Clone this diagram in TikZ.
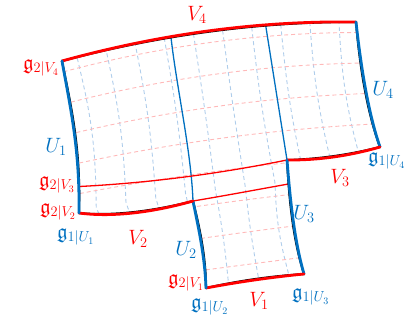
\documentclass[tikz,border=0pt]{standalone}
\usepackage{amssymb}
\DeclareMathSizes{20.74}{20.74}{14.4}{10}
\definecolor{ublue}{RGB}{0,112,192}
\definecolor{vred}{RGB}{255,0,0}
\definecolor{gblue}{RGB}{175,205,235}
\definecolor{gred}{RGB}{255,185,185}
\pgfmathdeclarefunction{bx}{2}{\pgfmathparse{(1-(#1))*(1-(#2))*92+(#1)*(1-(#2))*397+(1-(#1))*(#2)*62+(#1)*(#2)*356}}
\pgfmathdeclarefunction{by}{2}{\pgfmathparse{(1-(#1))*(1-(#2))*299+(#1)*(1-(#2))*261+(1-(#1))*(#2)*61+(#1)*(#2)*22}}
\pgfmathdeclarefunction{pinch}{1}{\pgfmathparse{((#1)<0.37)*22*sin(180*(#1)/0.37)+((#1)>=0.37)*12*sin(180*((#1)-0.37)/0.63)}}
\pgfmathdeclarefunction{mx}{2}{\pgfmathparse{bx(#1,#2)-((#1)-0.5)*pinch(#2)}}
\pgfmathdeclarefunction{my}{2}{\pgfmathparse{by(#1,#2)-40*(#2)*(#1)*(1-(#1))}}
\begin{document}
\begin{tikzpicture}[x=1pt,y=-1pt,
  edge/.style={line width=2.8pt,line cap=round},
  under/.style={line width=2pt,black,line join=round},
  thinb/.style={ublue,line width=1.3pt},
  thinr/.style={vred,line width=1.3pt},
  gridr/.style={gred,line width=0.9pt,dash pattern=on 4pt off 3pt},
  gridb/.style={gblue,line width=0.9pt,dash pattern=on 4pt off 3pt},
  lab/.style={font=\fontsize{20.74}{24}\selectfont,inner sep=0pt},
  rl/.style={lab,text=vred},
  bl/.style={lab,text=ublue}]
\useasboundingbox (0,0) rectangle (414,322);
\coordinate (A) at (62,61);
\coordinate (B) at (356,22);
\coordinate (C) at (380,147);
\coordinate (D) at (287,160);
\coordinate (E) at (304,274);
\coordinate (F) at (206,288);
\coordinate (G) at (193,201);
\coordinate (H) at (79,213);
\coordinate (I) at (79.2,186.5);
\coordinate (J) at (171,37.5);
\coordinate (K) at (265.7,25.6);
\coordinate (M) at (288.4,184);
% dashed grid
\begin{scope}
\clip (A) .. controls (161.3,34.8) and (259.3,21.8) .. (B)
  .. controls (359,60) and (366,110) .. (C)
  .. controls (349,154.8) and (318,159.1) .. (D)
  .. controls (289,200) and (293,240) .. (E)
  .. controls (271.3,276) and (238.7,280.7) .. (F)
  .. controls (206,255) and (199,225) .. (G)
  .. controls (150,212) and (110,216) .. (H)
  .. controls (81,150) and (72,110) .. (A) -- cycle;
\foreach \uu in {0.051,0.15,0.249,0.348,0.447,0.546,0.645,0.744,0.843,0.942}
  \draw[gridb] plot[domain=-0.05:1.05,samples=40,variable=\s] ({mx(\uu,\s)},{my(\uu,\s)});
\foreach \vv in {0.06,0.188,0.316,0.444,0.572,0.70,0.828,0.956}
  \draw[gridr] plot[domain=-0.05:1.05,samples=40,variable=\s] ({mx(\s,\vv)},{my(\s,\vv)});
\end{scope}
% thin interior lines
\draw[thinb] (J) .. controls (177,90) and (191,150) .. (G);
\draw[thinb] (K) -- (D);
\draw[thinr] (I) .. controls (148.5,183) and (217.7,174) .. (D);
\draw[thinr] (G) .. controls (224.8,195.7) and (256.6,189.7) .. (M);
% dark under-outline
\draw[under] (A) .. controls (161.3,34.8) and (259.3,21.8) .. (B)
  .. controls (359,60) and (366,110) .. (C)
  .. controls (349,154.8) and (318,159.1) .. (D)
  .. controls (289,200) and (293,240) .. (E)
  .. controls (271.3,276) and (238.7,280.7) .. (F)
  .. controls (206,255) and (199,225) .. (G)
  .. controls (150,212) and (110,216) .. (H)
  .. controls (81,150) and (72,110) .. (A) -- cycle;
% coloured edges
\draw[edge,vred,yshift=1.2pt] (A) .. controls (161.3,34.8) and (259.3,21.8) .. (B);
\draw[edge,ublue,xshift=1.2pt] (B) .. controls (359,60) and (366,110) .. (C);
\draw[edge,vred,yshift=-1.2pt] (C) .. controls (349,154.8) and (318,159.1) .. (D);
\draw[edge,ublue,xshift=1.2pt] (D) .. controls (289,200) and (293,240) .. (E);
\draw[edge,vred,yshift=-1.2pt] (E) .. controls (271.3,276) and (238.7,280.7) .. (F);
\draw[edge,ublue,xshift=-1.2pt] (F) .. controls (206,255) and (199,225) .. (G);
\draw[edge,vred,yshift=-1.2pt] (G) .. controls (150,212) and (110,216) .. (H);
\draw[edge,ublue,xshift=-1.2pt] (H) .. controls (81,150) and (72,110) .. (A);
% labels
\node[rl] (lV4) at (197,15) {$V_4$};
\node[rl,anchor=east] (lg2V4) at (59,68) {$\mathfrak{g}_{2|V_4}$};
\node[bl] (lU1) at (56,147) {$U_1$};
\node[rl,anchor=east] (lg2V3) at (75,185) {$\mathfrak{g}_{2|V_3}$};
\node[rl,anchor=east] (lg2V2) at (76,212) {$\mathfrak{g}_{2|V_2}$};
\node[bl,anchor=west] (lg1U1) at (57,237) {$\mathfrak{g}_{1|U_1}$};
\node[rl] (lV2) at (138,239) {$V_2$};
\node[bl] (lU2) at (186,250) {$U_2$};
\node[rl,anchor=east] (lg2V1) at (204,283) {$\mathfrak{g}_{2|V_1}$};
\node[bl,anchor=west] (lg1U2) at (191,307) {$\mathfrak{g}_{1|U_2}$};
\node[rl] (lV1) at (259,301) {$V_1$};
\node[bl,anchor=west] (lg1U3) at (292,297) {$\mathfrak{g}_{1|U_3}$};
\node[bl] (lU3) at (304,214) {$U_3$};
\node[rl] (lV3) at (340,178) {$V_3$};
\node[bl,anchor=west] (lg1U4) at (368,161) {$\mathfrak{g}_{1|U_4}$};
\node[bl] (lU4) at (383,90) {$U_4$};
\end{tikzpicture}
\end{document}
